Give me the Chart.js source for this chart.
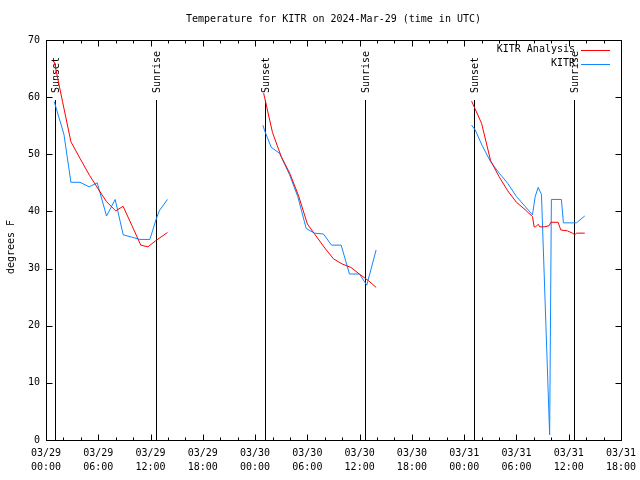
<!DOCTYPE html>
<html lang="en">
<head>
<meta charset="UTF-8">
<title>Temperature for KITR on 2024-Mar-29</title>
<script src="https://cdn.jsdelivr.net/npm/chart.js@4.4.0/dist/chart.umd.min.js"></script>
<style>
    body { margin: 0; background: #fff; }
    #wrap { width: 640px; height: 480px; }
</style>
</head>
<body>
<div id="wrap"><canvas id="tempChart" width="640" height="480"></canvas></div>
<script>
// all times are hours since 03/29 00:00 UTC; null breaks the line between nights
const analysisHours = [0.95, 1.9, 2.86, 3.9, 5.0, 5.96, 6.95, 8.0, 8.85, 9.87, 10.88, 11.7, 12.7, 13.94,
    20,
    24.98, 26, 27, 28, 29, 30, 31, 32, 33, 34, 35, 36, 37, 37.9,
    44,
    48.85, 49.0, 50.0, 51.03, 52, 53, 54, 55, 55.84, 56.03, 56.2, 56.49, 56.68, 57.18, 57.75, 57.95,
    58.78, 59.09, 59.85, 60.42, 60.7, 60.88, 61.84];
const analysisTemps = [66.2, 59.2, 52.2, 49.3, 46.3, 44.0, 41.7, 40.1, 40.9, 37.5, 34.1, 33.8, 35.0, 36.3,
    null,
    60.7, 53.8, 49.6, 46.6, 42.7, 37.8, 35.7, 33.6, 31.7, 30.8, 30.2, 29.0, 27.9, 26.7,
    null,
    59.3, 58.8, 55.4, 48.9, 46.1, 43.6, 41.6, 40.3, 39.1, 37.3, 37.3, 37.75, 37.3, 37.3, 37.5, 38.1,
    38.1, 36.75, 36.6, 36.2, 35.9, 36.2, 36.2];

const obsHours = [0.95, 2.06, 2.86, 3.9, 4.96, 5.88, 6.95, 7.94, 8.86, 9.85, 10.77, 11.92, 12.68, 13.0, 13.94,
    20,
    24.9, 25.1, 25.86, 26.8, 27.96, 28.9, 29.87, 30.82, 31.85, 32.77, 33.88, 34.83, 35.98, 36.82, 37.89,
    44,
    48.85, 49.27, 50.04, 51.03, 52.02, 53.0, 54.0, 55.04, 55.84, 56.15, 56.49, 56.87, 57.81, 58.01,
    59.16, 59.39, 60.88, 61.84];
const obsTemps = [59.2, 53.5, 45.1, 45.1, 44.3, 45.0, 39.2, 42.1, 35.9, 35.5, 35.1, 35.1, 38.8, 40.1, 42.1,
    null,
    55.1, 54.1, 51.2, 50.2, 46.4, 42.6, 37.0, 36.2, 36.05, 34.1, 34.1, 29.05, 29.05, 27.1, 33.25,
    null,
    55.1, 54.25, 51.6, 48.7, 46.7, 44.9, 42.6, 40.8, 39.4, 42.6, 44.2, 43.0, 0.9, 42.1,
    42.1, 38.0, 38.0, 39.2];

const sunHours = [1.07, 12.64, 25.13, 36.63, 49.08, 60.58];
const sunLabels = ['Sunset', 'Sunrise', 'Sunset', 'Sunrise', 'Sunset', 'Sunrise'];

const tickDates = ['03/29', '03/29', '03/29', '03/29', '03/30', '03/30', '03/30', '03/30', '03/31', '03/31', '03/31', '03/31'];
const tickTimes = ['00:00', '06:00', '12:00', '18:00', '00:00', '06:00', '12:00', '18:00', '00:00', '06:00', '12:00', '18:00'];

const seriesNames = ['KITR Analysis', 'KITR'];
const seriesColors = ['#ff0000', '#1188ff'];

const MONO = "'DejaVu Sans Mono', 'Liberation Mono', monospace";
const FONT = '10px ' + MONO;

function toPoints(hours, temps) {
    return hours.map((h, i) => ({ x: h, y: temps[i] }));
}

function hline(ctx, x1, y1, x2, y2) {
    ctx.beginPath();
    ctx.moveTo(x1, y1);
    ctx.lineTo(x2, y2);
    ctx.stroke();
}

// gnuplot-like frame, inward ticks, sun lines, title and legend
const gnuplotLook = {
    id: 'gnuplotLook',
    beforeDraw(chart) {
        const ctx = chart.ctx;
        ctx.save();
        ctx.fillStyle = '#fff';
        ctx.fillRect(0, 0, chart.width, chart.height);
        ctx.restore();
    },
    beforeDatasetsDraw(chart) {
        const { ctx, chartArea: a, scales: { x, y } } = chart;
        const y0 = Math.round(y.getPixelForValue(0));
        const yTop = Math.round(a.top + (a.bottom - a.top) * 0.15);
        ctx.save();
        ctx.strokeStyle = '#000';
        ctx.fillStyle = '#000';
        ctx.lineWidth = 1;
        ctx.font = FONT;
        sunHours.forEach((h, i) => {
            const px = Math.round(x.getPixelForValue(h)) + 0.5;
            hline(ctx, px, y0, px, yTop);
            ctx.save();
            ctx.translate(px, yTop - 7);
            ctx.rotate(-Math.PI / 2);
            ctx.textAlign = 'left';
            ctx.textBaseline = 'middle';
            ctx.fillText(sunLabels[i], 0, 1);
            ctx.restore();
        });
        ctx.restore();
    },
    afterDraw(chart) {
        const { ctx, chartArea: a, scales: { x, y } } = chart;
        ctx.save();
        ctx.strokeStyle = '#000';
        ctx.lineWidth = 1;
        const L = Math.round(a.left) + 0.5, R = Math.round(a.right) + 0.5;
        const T = Math.round(a.top) + 0.5, B = Math.round(a.bottom) + 0.5;
        ctx.strokeRect(L, T, R - L, B - T);

        x.ticks.forEach(t => {
            const px = Math.round(x.getPixelForValue(t.value)) + 0.5;
            const len = t.value % 6 === 0 ? 6 : 3;
            hline(ctx, px, B, px, B - len);
            hline(ctx, px, T, px, T + len);
        });
        y.ticks.forEach(t => {
            const py = Math.round(y.getPixelForValue(t.value)) + 0.5;
            hline(ctx, L, py, L + 6, py);
            hline(ctx, R, py, R - 6, py);
        });

        ctx.fillStyle = '#000';
        ctx.font = FONT;
        ctx.textBaseline = 'middle';

        // title
        ctx.textAlign = 'center';
        ctx.fillText('Temperature for KITR on 2024-Mar-29 (time in UTC)', (a.left + a.right) / 2, 19);

        // y axis title
        ctx.save();
        ctx.translate(11, 247);
        ctx.rotate(-Math.PI / 2);
        ctx.fillText('degrees F', 0, 0);
        ctx.restore();

        // legend
        seriesNames.forEach((name, i) => {
            const ly = 49.5 + i * 14;
            ctx.textAlign = 'right';
            ctx.fillStyle = '#000';
            ctx.fillText(name, 575, ly);
            ctx.strokeStyle = seriesColors[i];
            hline(ctx, 581, Math.round(ly) + 0.5, 610, Math.round(ly) + 0.5);
        });
        ctx.restore();
    }
};

new Chart(document.getElementById('tempChart'), {
    type: 'line',
    data: {
        datasets: [{
            label: seriesNames[0],
            data: toPoints(analysisHours, analysisTemps),
            borderColor: seriesColors[0],
            borderWidth: 1,
            pointRadius: 0,
            tension: 0,
            spanGaps: false
        }, {
            label: seriesNames[1],
            data: toPoints(obsHours, obsTemps),
            borderColor: seriesColors[1],
            borderWidth: 1,
            pointRadius: 0,
            tension: 0,
            spanGaps: false
        }]
    },
    options: {
        responsive: false,
        animation: false,
        devicePixelRatio: 1,
        layout: { padding: { top: 40, right: 19, left: 0, bottom: 0 } },
        plugins: {
            legend: { display: false },
            title: { display: false },
            tooltip: { enabled: false }
        },
        scales: {
            x: {
                type: 'linear',
                min: 0,
                max: 66,
                grid: { display: false, drawTicks: false },
                border: { display: false },
                afterFit(scale) {
                    scale.height = 40;
                    scale.paddingLeft = 0;
                    scale.paddingRight = 0;
                },
                ticks: {
                    stepSize: 2,
                    autoSkip: false,
                    maxRotation: 0,
                    minRotation: 0,
                    padding: 6,
                    color: '#000',
                    font: { family: MONO, size: 10, lineHeight: 1.4 },
                    callback(value) {
                        if (value % 6 !== 0) return '';
                        const i = value / 6;
                        return [tickDates[i], tickTimes[i]];
                    }
                }
            },
            y: {
                min: 0,
                max: 70,
                grid: { display: false, drawTicks: false },
                border: { display: false },
                afterFit(scale) { scale.width = 46; },
                ticks: {
                    stepSize: 10,
                    padding: 6,
                    color: '#000',
                    font: { family: MONO, size: 10 }
                }
            }
        }
    },
    plugins: [gnuplotLook]
});
</script>
</body>
</html>
